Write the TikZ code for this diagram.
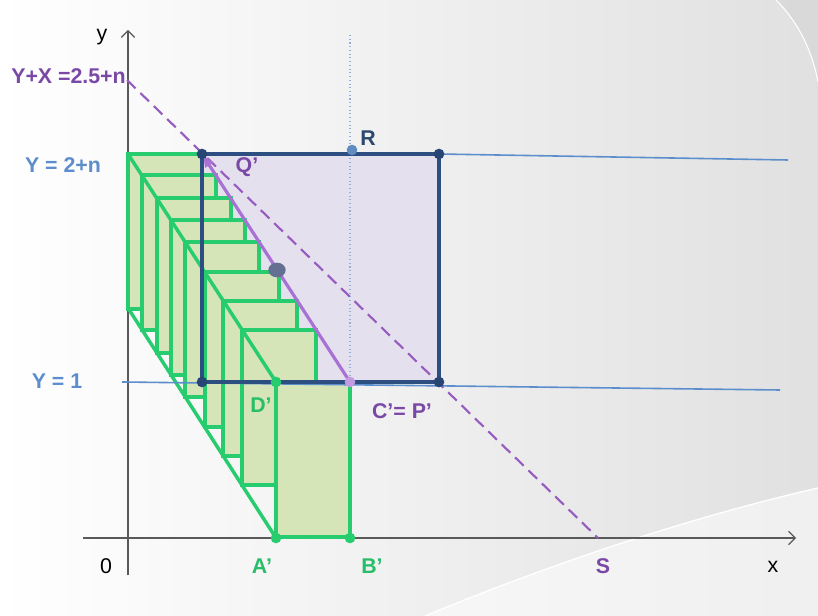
\documentclass[tikz,border=0pt]{standalone}
\usepackage{fontspec}
\setmainfont{Liberation Sans}
\usepackage{tikz}
\usetikzlibrary{arrows.meta,shapes.geometric}

\definecolor{stairgreen}{RGB}{38,204,110}
\definecolor{stairfill}{RGB}{214,229,184}
\definecolor{boxblue}{RGB}{45,78,128}
\definecolor{boxfill}{RGB}{229,224,238}
\definecolor{levelblue}{RGB}{92,142,205}
\definecolor{dashpurple}{RGB}{150,92,192}
\definecolor{solidpurple}{RGB}{168,114,212}
\definecolor{labelpurple}{RGB}{122,72,166}
\definecolor{labelgreen}{RGB}{40,190,105}
\definecolor{rnavy}{RGB}{44,72,110}
\definecolor{blobgrey}{RGB}{100,112,145}

\begin{document}
\begin{tikzpicture}[
  x=0.75pt, y=-0.75pt,
  lbl/.style={font=\fontsize{16}{18}\selectfont\bfseries, inner sep=0pt},
  plain/.style={font=\fontsize{16}{18}\selectfont, inner sep=0pt},
  axis/.style={draw=black!65, line width=0.9pt, -{Straight Barb[length=5pt,width=10pt]}},
  level/.style={draw=levelblue, line width=1.2pt},
  stair/.style={draw=stairgreen, fill=stairfill, line width=2.6pt},
  edge/.style={draw=stairgreen, line width=2.6pt, line cap=round},
  dot/.style={circle, fill=#1, inner sep=0pt, minimum size=8pt}
]
\useasboundingbox (0,0) rectangle (818,616);
% background
\shade[left color=white, right color=black!12] (0,0) rectangle (818,616);
\fill[white, opacity=0.5] (425,616) .. controls (560,560) and (700,515) .. (818,488) -- (818,616) -- cycle;
\draw[white, line width=1pt] (425,616) .. controls (560,560) and (700,515) .. (818,488);
\fill[black!20, opacity=0.35] (776,0) .. controls (798,22) and (812,50) .. (818,82) -- (818,0) -- cycle;
\draw[white, line width=0.8pt] (776,0) .. controls (798,22) and (812,50) .. (818,82);

% points
\coordinate (O) at (128,538);
\coordinate (ytip) at (128,30);
\coordinate (ybot) at (128,575);
\coordinate (xleft) at (83,538);
\coordinate (xtip) at (796,538);
\coordinate (Q) at (202,154);
\coordinate (E) at (439,154);
\coordinate (F) at (202,382);
\coordinate (G) at (439,382);
\coordinate (C) at (350,382);
\coordinate (D) at (276,382);
\coordinate (A) at (276,538);
\coordinate (B) at (350,538);
\coordinate (S) at (598,538);
\coordinate (T) at (127,80);
\coordinate (R) at (352,150);
\coordinate (vtop) at (350,35);
\coordinate (L1) at (128,154);
\coordinate (L2) at (128,308);
\coordinate (one1) at (122,382);
\coordinate (one2) at (780,390);
\coordinate (top2) at (788,160);
\coordinate (W) at (277,270);

% axes
\draw[axis] (ybot) -- (ytip);
\draw[axis] (xleft) -- (xtip);

% box
\fill[boxfill] (Q) rectangle (G);
\draw[levelblue!70, line width=0.8pt, dotted] (vtop) -- (C);

% stairs
\foreach \dx/\dy in {0/0, 14/21, 29/44, 43/66, 57/88, 77/118, 95/147, 114/176, 148/228}
  \draw[stair] (128+\dx,154+\dy) rectangle ++(74,155);
\draw[edge] (L1) -- (D);
\draw[edge] (L2) -- (A);

% levels
\draw[level] (one1) -- (one2);
\draw[level] (E) -- (top2);
\draw[boxblue, line width=2.4pt] (Q) rectangle (G);

% lines
\draw[dashpurple, line width=1.6pt, dash pattern=on 9pt off 5pt] (T) -- (S);
\draw[solidpurple, line width=2.4pt, -{Latex[length=10pt,width=8pt]}] (C) -- (Q);

% dots
\node[dot=boxblue!90!black] (q) at (Q) {};
\node[dot=boxblue!90!black] (e) at (E) {};
\node[dot=boxblue!90!black] (f) at (F) {};
\node[dot=boxblue!90!black] (g) at (G) {};
\node[dot=levelblue!85!gray] (r) at (R) {};
\node[dot=solidpurple!70] (c) at (C) {};
\node[dot=stairgreen] (d) at (D) {};
\node[dot=stairgreen] (a) at (A) {};
\node[dot=stairgreen] (b) at (B) {};
\node[ellipse, fill=blobgrey, inner sep=0pt, minimum width=13pt, minimum height=11pt] (w) at (W) {};

% labels
\node[plain] (ylab) at (102,37) {y};
\node[plain] (xlab) at (773,567) {x};
\node[plain] (zero) at (106,566) {0};
\node[lbl, text=labelpurple, anchor=east] (sum) at (126,76) {Y+X =2.5+n};
\node[lbl, text=levelblue] (ytop) at (63,165) {Y = 2+n};
\node[lbl, text=levelblue] (yone) at (57,381) {Y = 1};
\node[lbl, text=labelpurple] (qlab) at (247,167) {Q'};
\node[lbl, text=rnavy] (rlab) at (368,138) {R};
\node[lbl, text=labelgreen] (dlab) at (261,405) {D'};
\node[lbl, text=labelpurple] (clab) at (402,411) {C'= P'};
\node[lbl, text=labelgreen] (alab) at (262,566) {A'};
\node[lbl, text=labelgreen] (blab) at (372,566) {B'};
\node[lbl, text=labelpurple] (slab) at (603,566) {S};
\end{tikzpicture}
\end{document}
